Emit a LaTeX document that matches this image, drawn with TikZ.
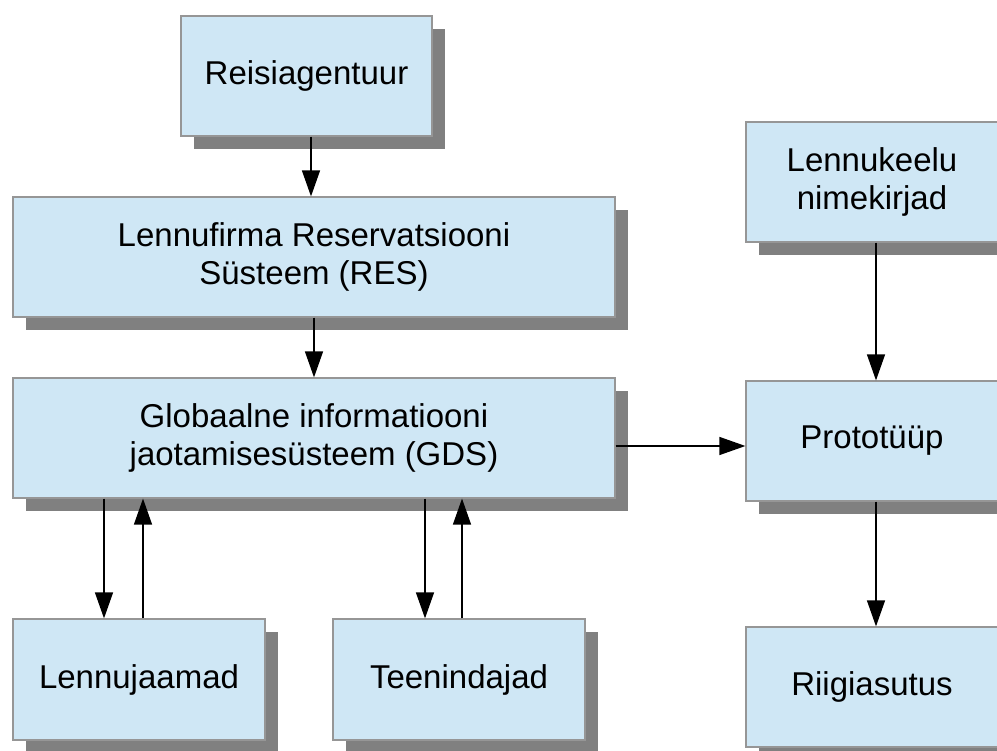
\documentclass[tikz,border=0pt]{standalone}
\usepackage{fontspec}
\setmainfont{Liberation Sans}
\usetikzlibrary{arrows.meta,shadows}
\definecolor{boxfill}{HTML}{CFE7F5}
\definecolor{boxline}{HTML}{969696}
\definecolor{shadowgray}{HTML}{808080}
\tikzset{
  box/.style={draw=boxline, line width=1.2pt, fill=boxfill, inner sep=0pt,
    align=center, font=\fontsize{33}{38}\selectfont,
    drop shadow={shadow xshift=13pt, shadow yshift=-13pt, fill=shadowgray, opacity=1}},
  arr/.style={draw=black, line width=1.3pt, -{Triangle[length=26pt,width=18pt]}}
}
\begin{document}
\begin{tikzpicture}[x=1pt,y=-1pt]
\useasboundingbox (0,0) rectangle (997,751);
\clip (0,0) rectangle (997,751);
\fill[white] (0,0) rectangle (997,751);

% left column
\node[box, minimum width=251pt, minimum height=120pt] (reisi) at (306.5,76) {Reisiagentuur};
\node[box, minimum width=602pt, minimum height=120pt] (res) at (314,257) {Lennufirma Reservatsiooni\\Süsteem (RES)};
\node[box, minimum width=602pt, minimum height=120pt] (gds) at (314,438) {Globaalne informatiooni\\jaotamisesüsteem (GDS)};
\node[box, minimum width=252pt, minimum height=121pt] (lenn) at (139,679.5) {Lennujaamad};
\node[box, minimum width=252pt, minimum height=121pt] (teen) at (459,679.5) {Teenindajad};

% right column
\node[box, minimum width=252pt, minimum height=120pt] (lnk) at (872,182) {Lennukeelu\\nimekirjad};
\node[box, minimum width=252pt, minimum height=120pt] (proto) at (872,441) {Prototüüp};
\node[box, minimum width=252pt, minimum height=120pt] (riik) at (872,687) {Riigiasutus};

% connectors
\draw[arr] ([xshift=4.5pt]reisi.south) -- ([xshift=4.5pt]reisi.south |- res.north);
\draw[arr] (res.south) -- (gds.north);
\draw[arr] ([yshift=-8pt]gds.east) -- ([yshift=-8pt]gds.east -| proto.west);
\draw[arr] ([xshift=4pt]lnk.south) -- ([xshift=4pt]lnk.south |- proto.north);
\draw[arr] ([xshift=4pt]proto.south) -- ([xshift=4pt]proto.south |- riik.north);
\draw[arr] ([xshift=-35pt]lenn.north |- gds.south) -- ([xshift=-35pt]lenn.north);
\draw[arr] ([xshift=4pt]lenn.north) -- ([xshift=4pt]lenn.north |- gds.south);
\draw[arr] ([xshift=-34pt]teen.north |- gds.south) -- ([xshift=-34pt]teen.north);
\draw[arr] ([xshift=3pt]teen.north) -- ([xshift=3pt]teen.north |- gds.south);
\end{tikzpicture}
\end{document}
